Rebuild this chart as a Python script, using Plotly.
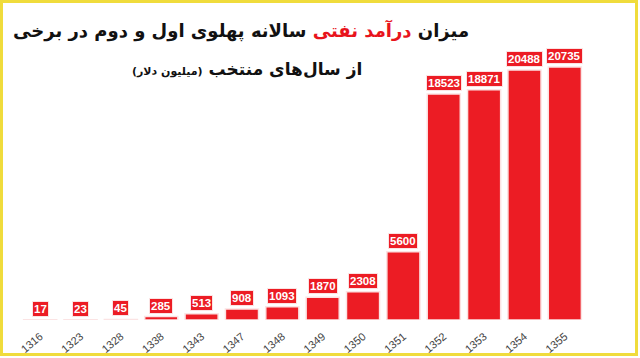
import plotly.graph_objects as go

years = ["1316", "1323", "1328", "1338", "1343", "1347", "1348", "1349",
         "1350", "1351", "1352", "1353", "1354", "1355"]
revenue = [17, 23, 45, 285, 513, 908, 1093, 1870, 2308, 5600, 18523, 18871, 20488, 20735]

title_line1 = "میزان <span style='color:#E8141C'>درآمد نفتی</span> سالانه پهلوی اول و دوم در برخی"
title_line2 = "از سال‌های منتخب <span style='font-size:11px'>(میلیون دلار)</span>"

RED = "#EC1C24"
W, H = 565, 300
L, B = 20, 38


def px(x, y):
    return (x - L) / W, (358 - B - y) / H


fig = go.Figure()
fig.add_trace(go.Bar(
    x=years, y=revenue,
    marker=dict(color=RED, line=dict(color="#FBE3E3", width=1.5)),
    width=0.82,
    hoverinfo="x+y",
))

for i, v in enumerate(revenue):
    fig.add_annotation(
        x=i, y=v, xref="x", yref="y",
        text="<b>%d</b>" % v,
        showarrow=False, yanchor="bottom", yshift=3,
        font=dict(family="Liberation Sans", size=11.5, color="white"),
        bgcolor=RED, bordercolor="#FBE3E3", borderwidth=1, borderpad=1,
    )

ax, ay = px(241, 31)
fig.add_annotation(x=ax, y=ay, xref="paper", yref="paper", xanchor="center", yanchor="middle",
                   text="<b>" + title_line1 + "</b>",
                   showarrow=False, font=dict(family="DejaVu Sans", size=18, color="#111"))
bx, by = px(247, 69)
fig.add_annotation(x=bx, y=by, xref="paper", yref="paper", xanchor="center", yanchor="middle",
                   text="<b>" + title_line2 + "</b>",
                   showarrow=False, font=dict(family="DejaVu Sans", size=17, color="#111"))

x0, y0 = px(1.5, 354.5)
x1, y1 = px(636.5, 1.5)
fig.update_layout(
    width=640, height=358,
    margin=dict(l=L, r=640 - L - W, t=358 - B - H, b=B, autoexpand=False),
    paper_bgcolor="white", plot_bgcolor="white",
    showlegend=False,
    xaxis=dict(type="category", range=[-0.5, 13.5], tickangle=-40, showgrid=False,
               showline=False, ticks="", ticklabelstandoff=7, automargin=False,
               tickfont=dict(family="Liberation Sans", size=11, color="#444")),
    yaxis=dict(range=[0, 24587], visible=False, showgrid=False, automargin=False),
    shapes=[dict(type="rect", xref="paper", yref="paper", x0=x0, x1=x1, y0=y0, y1=y1,
                 line=dict(color="#F0DC3C", width=3))],
)

fig.write_html("out.html")
